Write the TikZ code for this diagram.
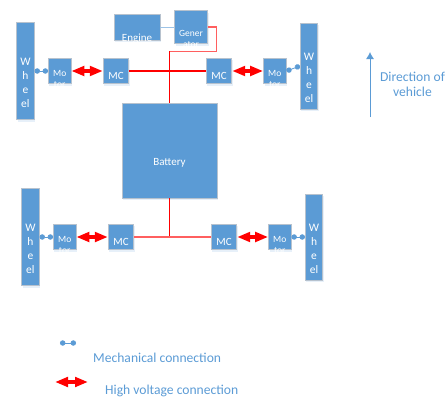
\documentclass[tikz,border=0pt]{standalone}
\usepackage{fontspec}
\setmainfont{Carlito}
\usepackage{xcolor}
\usetikzlibrary{positioning,arrows.meta,shadows}
\definecolor{blockblue}{HTML}{5B9BD5}
\definecolor{blockedge}{HTML}{B7C2CE}
\definecolor{paleblue}{HTML}{9DC3E6}
\definecolor{palered}{HTML}{FF5F5F}
\tikzset{
  blockbox/.style={draw=blockedge, line width=0.8pt, fill=blockblue, inner sep=0pt,
    drop shadow={shadow xshift=1pt, shadow yshift=-2pt, opacity=0.15, fill=blockblue}},
  wheelbox/.style={blockbox, minimum width=17.5pt},
  motorbox/.style={blockbox, minimum width=22.5pt, minimum height=25.5pt},
  mcbox/.style={blockbox, minimum width=25.5pt, minimum height=25.5pt},
  inbox/.style={text=white, align=center, inner sep=0pt},
  wheeltext/.style={inbox, font=\fontsize{11.5}{14}\selectfont, yshift=-12pt},
  motortext/.style={inbox, font=\fontsize{9.5}{11}\selectfont, yshift=-7.5pt},
  mctext/.style={inbox, font=\fontsize{11}{13}\selectfont, yshift=-5pt},
  redline/.style={draw=red, line width=1.3pt},
  palewire/.style={draw=palered, line width=1.3pt},
  hvlink/.style={color=red, line width=4.5pt, {Triangle[length=13pt,width=9.5pt]}-{Triangle[length=13pt,width=9.5pt]}},
  mechlink/.style={color=blockblue, line width=0.8pt, {Circle[length=5.4pt]}-{Circle[length=5.4pt]}},
  legendtext/.style={text=blockblue, font=\fontsize{13.6}{15.5}\selectfont, align=center, inner sep=0pt}
}
\begin{document}
\begin{tikzpicture}[x=1pt, y=1pt]
\useasboundingbox (0,0) rectangle (446,-399);
\node[blockbox, minimum width=95pt, minimum height=95pt,
  label={[inbox, font=\fontsize{11}{13}\selectfont, yshift=-12pt]center:Battery}] (batterybox) at (169.5,-150.5) {};
\node[blockbox, minimum width=46pt, minimum height=26pt,
  label={[inbox, font=\fontsize{11}{13}\selectfont, yshift=-11.5pt]center:Engine}] (engine) at (137,-27) {};
\node[blockbox, minimum width=33pt, minimum height=33pt,
  label={[motortext, yshift=-4pt]center:Gener\\ator}] (generator) at (191,-27) {};
% top row
\node[mcbox, label={[mctext]center:MC}] (mca) at (116,-71) {};
\node[motorbox, left=31.5pt of mca, label={[motortext]center:Mo\\tor}] (motora) {};
\node[wheelbox, minimum height=97pt, left=13.5pt of motora, label={[wheeltext]center:W\\h\\e\\el}] (wheela) {};
\node[mcbox, label={[mctext]center:MC}] (mcb) at (219,-71) {};
\node[motorbox, right=31pt of mcb, label={[motortext]center:Mo\\tor}] (motorb) {};
\node[wheelbox, minimum height=86pt, right=13.5pt of motorb, yshift=5pt, label={[wheeltext]center:W\\h\\e\\el}] (wheelb) {};
% bottom row
\node[mcbox, label={[mctext]center:MC}] (mcc) at (121,-237) {};
\node[motorbox, left=31.5pt of mcc, label={[motortext]center:Mo\\tor}] (motorc) {};
\node[wheelbox, minimum height=97pt, left=13.5pt of motorc, label={[wheeltext]center:W\\h\\e\\el}] (wheelc) {};
\node[mcbox, label={[mctext]center:MC}] (mcd) at (224,-237) {};
\node[motorbox, right=31pt of mcd, label={[motortext]center:Mo\\tor}] (motord) {};
\node[wheelbox, minimum height=86pt, right=13.5pt of motord, label={[wheeltext]center:W\\h\\e\\el}] (wheeld) {};
% wires
\draw[paleblue, line width=1pt] (engine) -- (generator);
\draw[palewire] (generator.east) -- ++(8.5,0) -- ++(0,-24.5) -- ++(-46.5,0);
\draw[redline] (mca) -- (mcb);
\draw[redline] (batterybox.north) -- ++(0,52);
\draw[redline] (batterybox.south) -- ++(0,-39.5);
\draw[palewire] (mcc) -- (mcd);
% links
\draw[hvlink] (motora) -- (mca);
\draw[hvlink] (mcb) -- (motorb);
\draw[hvlink] (motorc) -- (mcc);
\draw[hvlink] (mcd) -- (motord);
\draw[mechlink] (wheela) -- (motora);
\draw[mechlink] (motorb.east) -- (wheelb.west);
\draw[mechlink] (wheelc) -- (motorc);
\draw[mechlink] (motord) -- (wheeld);
% direction
\coordinate (dirstart) at (370,-117);
\coordinate (dirend) at (370,-52);
\draw[blockblue, line width=0.9pt, -{Latex[length=7pt,width=8pt]}] (dirstart) -- (dirend);
\node[legendtext] (dirtext) at (412.5,-84.5) {Direction of\\vehicle};
% legend
\coordinate (mechstart) at (60,-343);
\coordinate (mechend) at (76,-343);
\draw[mechlink] (mechstart) -- (mechend);
\coordinate (hvstart) at (55,-382);
\coordinate (hvend) at (88,-382);
\draw[hvlink] (hvstart) -- (hvend);
\node[legendtext, anchor=west] (mechtext) at (93,-358) {Mechanical connection};
\node[legendtext, anchor=west] (hvtext) at (105,-391) {High voltage connection};
\end{tikzpicture}
\end{document}
